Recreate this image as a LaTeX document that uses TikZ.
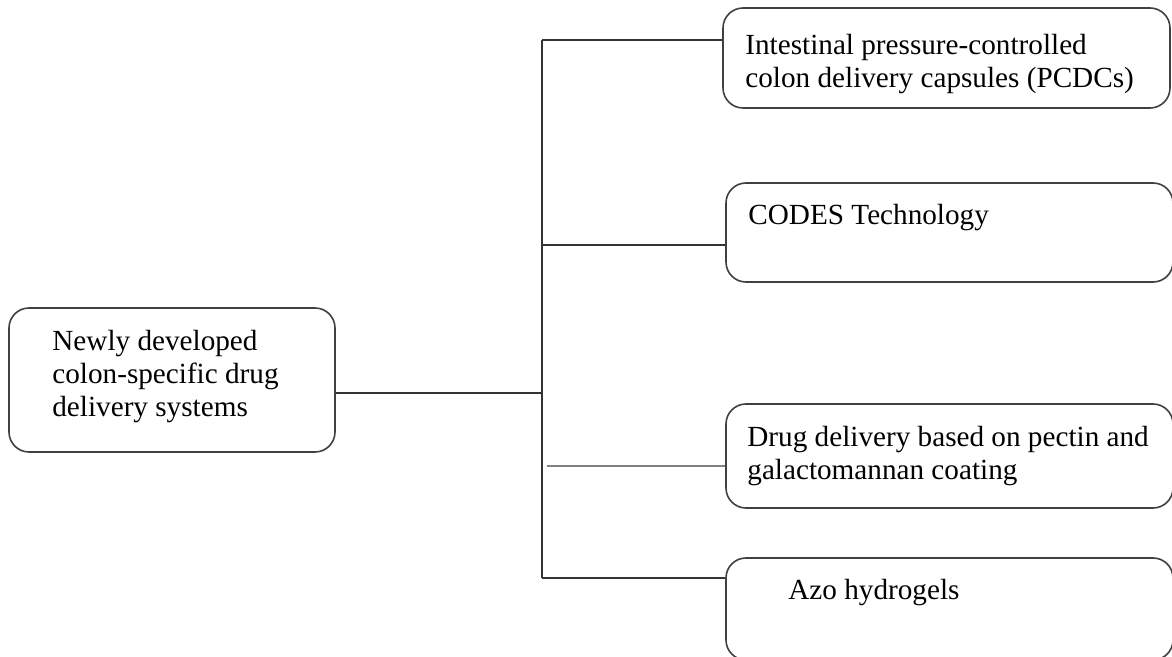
\documentclass[tikz,border=0pt]{standalone}
\usepackage{fontspec}
\setmainfont{Liberation Serif}
\usetikzlibrary{positioning}
\usetikzlibrary{calc}

\tikzset{
  box/.style={draw=black!75, line width=0.8pt, rounded corners=10pt, inner sep=0pt},
  txt/.style={align=left, inner sep=0pt, font=\fontsize{14.6}{16.5}\selectfont},
  link/.style={draw=black!80, line width=0.8pt}
}

\begin{document}
\begin{tikzpicture}[x=0.5pt,y=-0.5pt]
\useasboundingbox (0,0) rectangle (1172,657);

% boxes
\node [box, minimum width=163pt, minimum height=72pt] (main) at (172,380) {};
\node [box, minimum width=223.5pt, minimum height=50pt] (pcdc) at (946.5,58) {};
\node [box, minimum width=223.5pt, minimum height=49.5pt] (codes) at (949.5,232.5) {};
\node [box, minimum width=223.5pt, minimum height=52pt] (pectin) at (949.5,456) {};
\node [box, minimum width=223.5pt, minimum height=51pt] (azo) at (949.5,609) {};

% texts
\node [txt, anchor=north west] (tmain) at (52,330) {Newly developed\\colon-specific drug\\delivery systems};
\node [txt, anchor=north west] (tpcdc) at (745,34) {Intestinal pressure-controlled\\colon delivery capsules (PCDCs)};
\node [txt, anchor=north west] (tcodes) at (748,204) {CODES Technology};
\node [txt, anchor=north west] (tpectin) at (747,426) {Drug delivery based on pectin and\\galactomannan coating};
\node [txt, anchor=north west] (tazo) at (788,579) {Azo hydrogels};

% connectors
\coordinate (j0) at (542,393);
\coordinate (j1) at (542,40);
\coordinate (j2) at (542,245);
\coordinate (j3) at (547,466);
\coordinate (j4) at (542,578);

\draw [link] (main.east |- j0) -- (j0);
\draw [link] (j1) -- (j4);
\draw [link] (j1) -- (j1 -| pcdc.west);
\draw [link] (j2) -- (j2 -| codes.west);
\draw [link, draw=black!50, line width=1pt] (j3) -- (j3 -| pectin.west);
\draw [link] (j4) -- (j4 -| azo.west);

\end{tikzpicture}
\end{document}
